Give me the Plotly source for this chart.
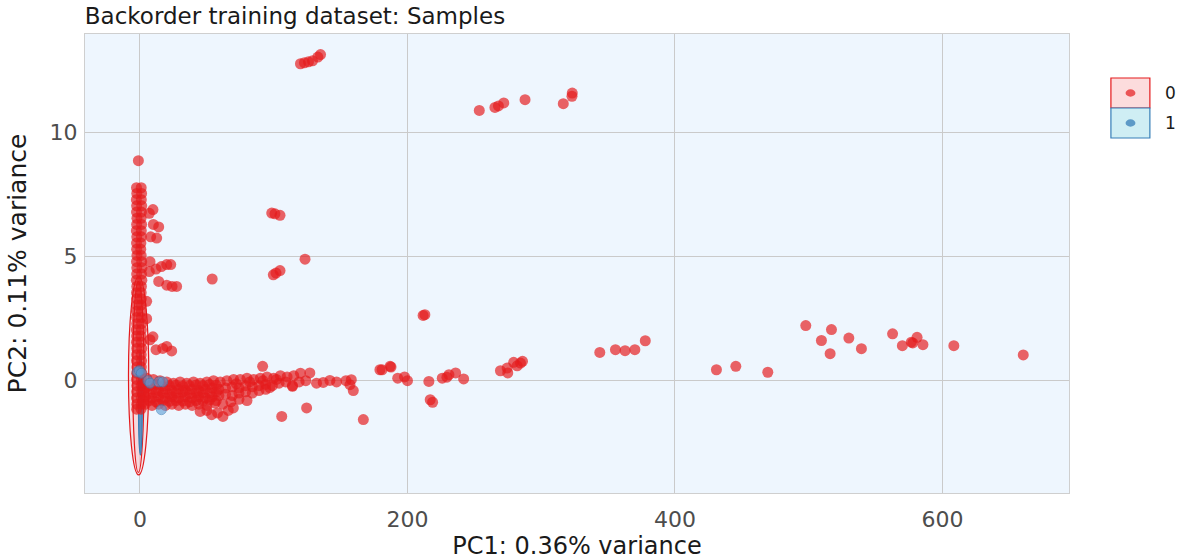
import plotly.graph_objects as go

# ---------------- data ----------------
# class "0": dense vertical column near PC1 = 0
col_x = [-2.6, 0.9, -2.4, 1.2, -2.7, 1.0, -2.5, 1.3, -2.6, 1.1, -2.3, 0.8, -2.5, 1.2,
         -2.7, 1.0, -2.4, 1.1, -2.6, 0.7, -2.5, 0.6, -2.3, 0.9, -2.6, 1.3, -2.4, 1.5,
         -2.5, 1.2, -2.7, 1.4, -2.4, 1.1, -2.6, 0.9, -2.5, 1.0, -2.3, 0.8, -2.6, 1.1,
         -2.5, 0.9, -2.4, 1.2, -2.7, 1.0, -2.5, 0.8, -2.6, 1.1, -2.4, 1.3, -2.5, 0.9,
         -2.6, 1.2, -2.3, 1.0, -2.5, 1.4, -2.6, 1.1, -2.4, 0.9, -2.5, 1.2, -2.6, 1.0,
         -2.4, 1.1, -2.5, 0.8]
col_y = [7.78, 7.78, 7.55, 7.55, 7.3, 7.3, 7.05, 7.05, 6.8, 6.8, 6.55, 6.55, 6.3, 6.3,
         6.05, 6.05, 5.8, 5.8, 5.55, 5.55, 5.3, 5.3, 5.05, 5.05, 4.8, 4.8, 4.55, 4.55,
         4.3, 4.3, 4.05, 4.05, 3.8, 3.8, 3.55, 3.55, 3.3, 3.3, 3.05, 3.05, 2.8, 2.8,
         2.55, 2.55, 2.3, 2.3, 2.05, 2.05, 1.8, 1.8, 1.55, 1.55, 1.3, 1.3, 1.05, 1.05,
         0.8, 0.8, 0.55, 0.55, 0.3, 0.3, 0.05, 0.05, -0.2, -0.2, -0.45, -0.45, -0.7, -0.7,
         -0.95, -0.95, -1.15, -1.15]

# bumps on the right side of the column
bump_x = [9.7, 7.0, 14.0, 10.0, 12.5, 8.0, 7.5, 7.0, 20.0, 23.0, 16.0, 12.0, 27.4, 20.0,
          24.0, 14.0, 7.5, 9.7, 17.0, 20.0, 23.7, 12.0, 5.0, 5.0]
bump_y = [6.9, 6.75, 6.2, 6.3, 5.75, 5.8, 4.8, 4.4, 4.68, 4.68, 4.6, 4.5, 3.8, 3.85,
          3.8, 4.0, 1.65, 1.77, 1.3, 1.38, 1.2, 1.25, 2.5, 3.2]

# horizontal band just below PC2 = 0
band_x = [5, 10, 15, 20, 25, 30, 35, 40, 45, 50, 55, 60, 65, 70, 75, 80, 85, 90, 95, 100,
          105, 110, 115, 120,
          4, 9, 14, 19, 24, 29, 34, 39, 44, 49, 54, 59, 64, 69, 74, 79, 84, 89, 94, 99,
          104, 109, 114, 119, 124,
          4, 9, 14, 19, 24, 29, 34, 39, 44, 49, 54, 59, 64, 69, 74, 79, 84, 89, 94,
          4, 9, 14, 19, 24, 29, 34, 39, 44, 50, 56, 62, 68, 74, 80,
          45, 50, 53.6, 58, 62, 66, 69.8, 106, 124.6, 167]
band_y = [0.1, 0.05, 0.0, -0.05, -0.1, -0.05, -0.1, -0.05, -0.1, -0.05, 0.0, -0.05, 0.0,
          0.05, 0.05, 0.1, 0.05, 0.1, 0.15, 0.1, 0.2, 0.15, 0.2, 0.3,
          -0.3, -0.35, -0.4, -0.35, -0.4, -0.35, -0.4, -0.35, -0.4, -0.35, -0.3, -0.35,
          -0.3, -0.25, -0.3, -0.2, -0.25, -0.2, -0.15, -0.2, -0.1, -0.05, -0.2, -0.05, 0.0,
          -0.65, -0.7, -0.65, -0.7, -0.65, -0.7, -0.65, -0.7, -0.65, -0.7, -0.65, -0.6,
          -0.55, -0.6, -0.5, -0.45, -0.5, -0.4, -0.35,
          -0.95, -1.0, -0.95, -1.0, -0.95, -1.0, -0.95, -1.0, -0.95, -1.0, -0.9, -0.95,
          -0.85, -0.75, -0.8,
          -1.24, -1.2, -1.37, -1.3, -1.44, -1.2, -1.1, -1.44, -1.1, -1.57]

# extra points filling the densest part of the band
fill_x = [2, 7, 12, 17, 22, 27, 32, 37, 42, 47, 52, 57,
          2, 7, 12, 17, 22, 27, 32, 37, 42, 47, 52, 57,
          2, 7, 12, 17, 22, 27, 32, 37, 42, 47, 52, 57, 72, 82, 92, 102]
fill_y = [-0.18, -0.2, -0.15, -0.22, -0.2, -0.18, -0.22, -0.2, -0.17, -0.2, -0.15, -0.18,
          -0.5, -0.52, -0.48, -0.5, -0.53, -0.5, -0.47, -0.52, -0.5, -0.48, -0.5, -0.45,
          -0.82, -0.8, -0.85, -0.8, -0.83, -0.8, -0.82, -0.85, -0.8, -0.82, -0.78, -0.8,
          -0.12, -0.05, -0.0, 0.05]

# loose points near the band
near_x = [127, 132, 137, 142, 147, 154, 157, 158, 159.5, 91.7, 114, 97, 179.4, 181,
          187, 187.7, 192.7, 197.8, 200]
near_y = [0.31, -0.1, -0.07, 0.01, -0.05, 0.0, -0.16, 0.04, -0.4, 0.58, -0.23, -0.28,
          0.44, 0.44, 0.58, 0.55, 0.1, 0.15, 0.0]

# far right points
far_x = [211.7, 213, 216, 217, 218.8, 226, 229.5, 231, 236, 242, 269.5, 274.5, 275,
         279.4, 284.5, 286, 282, 343.8, 355.5, 362.7, 370, 377.8, 431, 445.5, 469.4,
         497.8, 517, 509.5, 516, 530, 539.4, 562.7, 570, 576.7, 581, 585.4, 577.8,
         608.5, 660.4]
far_y = [2.63, 2.66, -0.03, -0.77, -0.87, 0.1, 0.14, 0.24, 0.31, 0.07, 0.4, 0.51, 0.31,
         0.74, 0.71, 0.78, 0.6, 1.14, 1.25, 1.21, 1.25, 1.61, 0.44, 0.58, 0.34,
         2.22, 2.06, 1.62, 1.09, 1.72, 1.29, 1.89, 1.41, 1.55, 1.75, 1.45, 1.52,
         1.41, 1.04]

# upper points
up_x = [98.5, 100.9, 104.7, 123.4, 99.7, 101.7, 104.7, 54, -1.2,
        120, 123, 126, 129, 133, 135, 253.7, 265.4, 268, 272, 287.9, 316.5, 323.2, 323]
up_y = [6.76, 6.73, 6.67, 4.9, 4.27, 4.34, 4.44, 4.1, 8.87,
        12.78, 12.82, 12.86, 12.9, 13.05, 13.15, 10.9, 11.02, 11.08, 11.2, 11.33, 11.17,
        11.6, 11.47]

# class "1"
blue_x = [-2.0, -0.5, 1.0, 6.0, 7.5, 14.0, 17.0, 16.0]
blue_y = [0.35, 0.4, 0.3, 0.0, -0.1, -0.05, -0.05, -1.17]

# 95% ellipses (centre x, centre y, semi-axis x, semi-axis y)
ell_red_outer = [-1.0, 0.2, 7.6, 4.0]
ell_red_inner = [-1.2, 0.15, 4.2, 3.85]
ell_blue = [0.3, -0.9, 1.4, 2.1]

x_ticks = [0, 200, 400, 600]
y_ticks = [0, 5, 10]
classes = ["0", "1"]

RED = "#E41A1C"
BLUE = "#377EB8"
FONT = "DejaVu Sans"

x0_all = col_x + bump_x + band_x + fill_x + near_x + far_x + up_x
y0_all = col_y + bump_y + band_y + fill_y + near_y + far_y + up_y

fig = go.Figure()
fig.add_trace(go.Scatter(x=x0_all, y=y0_all, mode="markers", name=classes[0],
                         marker=dict(color=RED, size=11, opacity=0.68, line=dict(width=0)),
                         showlegend=False))
fig.add_trace(go.Scatter(x=blue_x, y=blue_y, mode="markers", name=classes[1],
                         marker=dict(color="#5A9BD5", size=10, opacity=0.6,
                                     line=dict(width=1, color=BLUE)),
                         showlegend=False))

shapes = []
for e, lc, fc in [(ell_red_outer, RED, "rgba(248,200,202,0.45)"),
                  (ell_red_inner, RED, "rgba(248,200,202,0.35)"),
                  (ell_blue, BLUE, "rgba(55,126,184,0.8)")]:
    cx, cy, a, b = e
    shapes.append(dict(type="circle", xref="x", yref="y", x0=cx - a, x1=cx + a,
                       y0=cy - b, y1=cy + b, line=dict(color=lc, width=1.2),
                       fillcolor=fc, layer="between"))

# legend keys (drawn by hand to mimic ggplot boxes)
shapes += [
    dict(type="rect", xref="paper", yref="paper", x0=1.0426, x1=1.0822, y0=0.8388, y1=0.9041,
         line=dict(color=RED, width=1.2), fillcolor="#FCDCDD"),
    dict(type="rect", xref="paper", yref="paper", x0=1.0426, x1=1.0822, y0=0.7734, y1=0.8388,
         line=dict(color=BLUE, width=1.2), fillcolor="#CFEEF4"),
    dict(type="circle", xref="paper", yref="paper", x0=1.0575, x1=1.0675, y0=0.8635, y1=0.8795,
         line=dict(width=0), fillcolor="rgba(228,26,28,0.7)"),
    dict(type="circle", xref="paper", yref="paper", x0=1.0575, x1=1.0675, y0=0.7981, y1=0.8141,
         line=dict(width=0), fillcolor="rgba(55,126,184,0.75)"),
]

annotations = [
    dict(text=classes[0], xref="paper", yref="paper", x=1.0955, y=0.8715, xanchor="left",
         yanchor="middle", showarrow=False, font=dict(family=FONT, size=17, color="#1A1A1A")),
    dict(text=classes[1], xref="paper", yref="paper", x=1.0955, y=0.8061, xanchor="left",
         yanchor="middle", showarrow=False, font=dict(family=FONT, size=17, color="#1A1A1A")),
]

fig.update_layout(
    width=1178, height=560,
    margin=dict(l=85, r=109, t=34, b=67, autoexpand=False),
    paper_bgcolor="white",
    plot_bgcolor="#EEF6FE",
    title=dict(text="Backorder training dataset: Samples", x=0.072, xanchor="left",
               xref="container", yref="container", y=0.972, yanchor="middle",
               pad=dict(t=0, b=0, l=0, r=0),
               font=dict(family=FONT, size=23, color="#1A1A1A")),
    shapes=shapes,
    annotations=annotations,
    showlegend=False,
)
fig.update_xaxes(range=[-41.1, 694.6], tickvals=x_ticks, ticktext=[str(v) for v in x_ticks],
                 automargin=False,
                 showgrid=True, gridcolor="#CACACA", gridwidth=1.3, zeroline=False,
                 showline=True, mirror=True, linecolor="#CFCFCF", linewidth=1,
                 ticks="outside", ticklen=7, tickcolor="rgba(0,0,0,0)",
                 tickfont=dict(family=FONT, size=22, color="#4D4D4D"),
                 title=dict(text="PC1: 0.36% variance", standoff=13,
                            font=dict(family=FONT, size=24, color="#1A1A1A")))
fig.update_yaxes(range=[-4.53, 13.98], tickvals=y_ticks, ticktext=[str(v) for v in y_ticks],
                 automargin=False,
                 showgrid=True, gridcolor="#CACACA", gridwidth=1.3, zeroline=False,
                 showline=True, mirror=True, linecolor="#CFCFCF", linewidth=1,
                 ticks="outside", ticklen=2, tickcolor="rgba(0,0,0,0)",
                 tickfont=dict(family=FONT, size=22, color="#4D4D4D"),
                 title=dict(text="PC2: 0.11% variance", standoff=15,
                            font=dict(family=FONT, size=25, color="#1A1A1A")))

fig.write_html("out.html", config={"displayModeBar": False},
               post_script="document.body.style.margin='0px';")
